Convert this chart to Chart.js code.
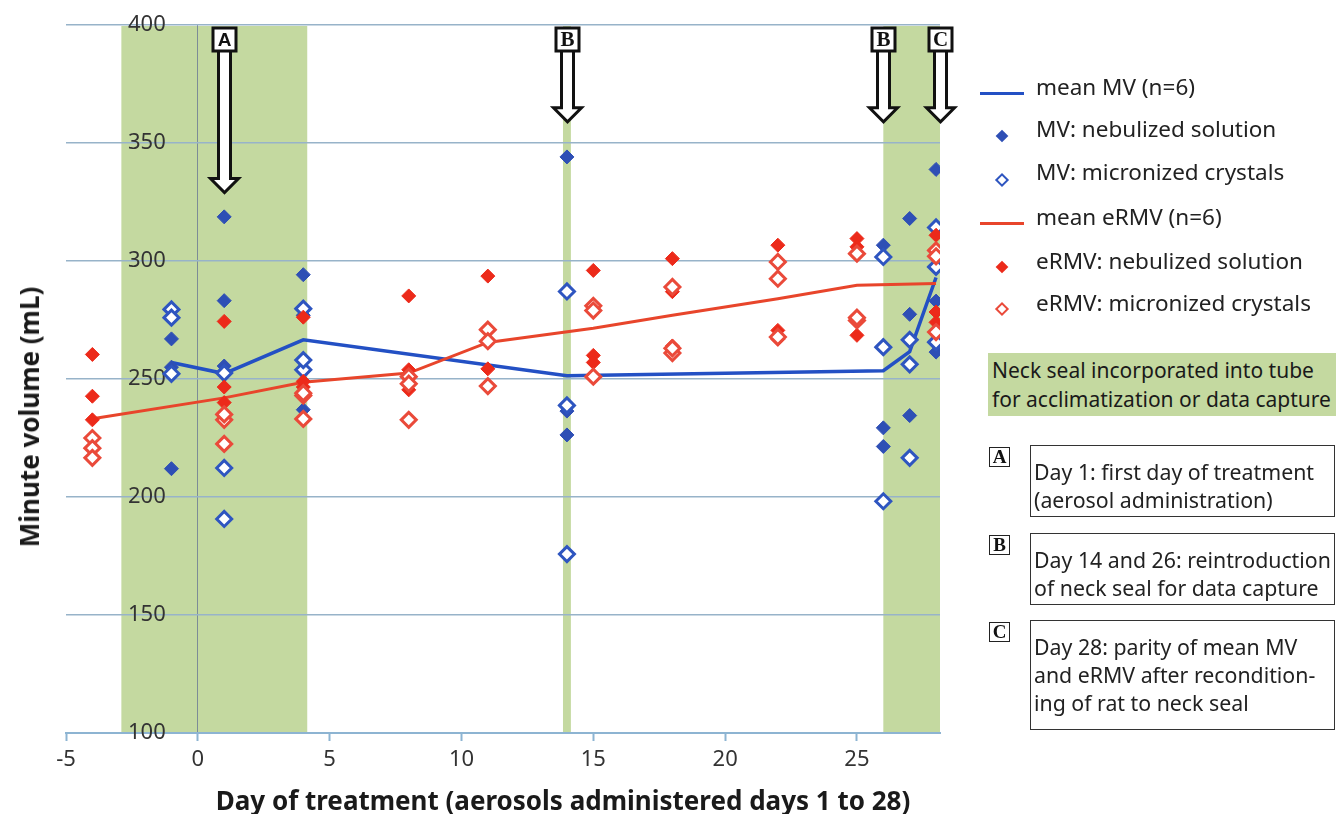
<!DOCTYPE html>
<html>
<head>
<meta charset="utf-8">
<script src="https://cdn.jsdelivr.net/npm/chart.js@4.4.1/dist/chart.umd.min.js"></script>
<style>
html,body{margin:0;padding:0;background:#fff;}
#wrap{position:relative;width:1336px;height:814px;overflow:hidden;font-family:'Noto Sans',sans-serif;color:#222;}
#c{position:absolute;left:0;top:0;}
.ytitle{position:absolute;left:29px;top:417px;transform:translate(-50%,-50%) rotate(-90deg);font-weight:bold;font-size:26px;white-space:nowrap;color:#1a1a1a;}
.xtitle{position:absolute;left:563px;top:800px;transform:translate(-50%,-50%);font-weight:bold;font-size:26px;white-space:nowrap;color:#1a1a1a;}
.lt{position:absolute;left:1036px;font-size:22.5px;line-height:26px;height:26px;margin-top:-13px;white-space:nowrap;color:#222;}
.ll{position:absolute;left:980px;width:44px;height:3px;margin-top:-1.5px;}
.dm{position:absolute;box-sizing:border-box;transform:translate(-50%,-50%) rotate(45deg);}
.note{position:absolute;left:988px;top:353px;width:348px;height:63px;background:#c4d9a0;font-size:21px;line-height:29px;padding:3px 0 0 4px;box-sizing:border-box;white-space:nowrap;color:#1a1a1a;}
.lab{position:absolute;left:989px;width:21px;height:20px;border:1.5px solid #222;box-sizing:border-box;font-family:'Liberation Serif',serif;font-weight:bold;font-size:19px;line-height:18px;text-align:center;color:#111;}
.box{position:absolute;left:1030px;width:305px;border:1.5px solid #333;box-sizing:border-box;font-size:21.3px;line-height:28px;padding:12px 0 0 3px;white-space:nowrap;color:#222;}
</style>
</head>
<body>
<div id="wrap">
<canvas id="c" width="1336" height="814"></canvas>
<div class="ytitle">Minute volume (mL)</div>
<div class="xtitle">Day of treatment (aerosols administered days 1 to 28)</div>

<div class="ll" style="top:93px;background:#2350c4"></div>
<div class="lt" style="top:87px">mean MV (n=6)</div>
<div class="dm" style="left:1002px;top:136px;width:9px;height:9px;background:#2e4fb5"></div>
<div class="lt" style="top:129px">MV: nebulized solution</div>
<div class="dm" style="left:1002px;top:180px;width:10px;height:10px;border:2.5px solid #2e55c0;background:#fff"></div>
<div class="lt" style="top:172px">MV: micronized crystals</div>
<div class="ll" style="top:223px;background:#e8452b"></div>
<div class="lt" style="top:217px">mean eRMV (n=6)</div>
<div class="dm" style="left:1002px;top:267px;width:9px;height:9px;background:#ec2a1a"></div>
<div class="lt" style="top:261px">eRMV: nebulized solution</div>
<div class="dm" style="left:1002px;top:309px;width:10px;height:10px;border:2.5px solid #ea4a3a;background:#fff"></div>
<div class="lt" style="top:303px">eRMV: micronized crystals</div>

<div class="note">Neck seal incorporated into tube<br>for acclimatization or data capture</div>

<div class="lab" style="top:447px">A</div>
<div class="box" style="top:445px;height:72px">Day 1: first day of treatment<br>(aerosol administration)</div>
<div class="lab" style="top:535px">B</div>
<div class="box" style="top:533px;height:72px">Day 14 and 26: reintroduction<br>of neck seal for data capture</div>
<div class="lab" style="top:622px">C</div>
<div class="box" style="top:620px;height:110px">Day 28: parity of mean MV<br>and eRMV after recondition-<br>ing of rat to neck seal</div>
</div>

<script>
// ---- data ----
const xTicks = [-5, 0, 5, 10, 15, 20, 25];
const yTicks = [100, 150, 200, 250, 300, 350, 400];

const meanMVDays = [-1, 1, 4, 14, 26, 27, 28];
const meanMV     = [257, 252.3, 266.6, 251.4, 253.5, 261.6, 293];

const mvDays    = [-1,-1,-1, 1,1,1, 4,4,4, 14,14,14, 26,26,26, 27,27,27, 28,28,28];
const mvNebVals = [267,212,255, 318.7,283.2,255.5, 294.2,277,237, 344.1,236.4,226.3, 306.7,229.3,221.4, 318,277.4,234.5, 338.8,283,261.4];
const mvMicVals = [279.5,276,252.2, 252.5,212.3,190.7, 279.8,253.9,258, 287.1,238.8,175.8, 301.7,263.5,198.2, 266.6,256.2,216.6, 314.2,297.5,265.6];

const meanERMVDays = [-4, 1, 4, 8, 11, 15, 18, 22, 25, 28];
const meanERMV     = [233.2, 242, 248.6, 252.5, 265.5, 271.5, 277, 284, 289.7, 290.5];

const ermvDays    = [-4,-4,-4, 1,1,1, 4,4,4, 8,8,8, 11,11,11, 15,15,15, 18,18,18, 22,22,22, 25,25,25, 28,28,28];
const ermvNebVals = [260.4,242.7,232.7, 274.4,246.6,240, 276.2,246.6,249, 285.2,253.9,245.4, 293.6,254.3,266, 296,260,257, 301,287,264, 306.7,270.6,266.8, 309.5,306,268.5, 310.9,278.4,274];
const ermvMicVals = [225,220.7,216.6, 232.7,235,222.5, 243,233.1,244, 251,232.7,248, 270.9,266,247, 281,279,251, 289,261,263, 299.6,292.5,267.8, 303.1,274.8,276, 304.5,302,269.9];

// neck-seal periods (day ranges) and event arrows
const bandStarts = [-2.9, 13.85, 26];
const bandEnds   = [4.15, 14.15, 28.15];
const arrowLabels = ['A', 'B', 'B', 'C'];
const arrowDays   = [1, 14, 26, 28.15];
const arrowTips   = [329, 359, 359, 359];

const xMin = -5, xMax = 28.15, yMin = 100, yMax = 400;

// ---- helpers ----
const pts = (xs, ys) => xs.map((d, i) => ({x: d, y: ys[i]}));

const bandPlugin = {
  id: 'bands',
  beforeDraw(chart) {
    const {ctx, chartArea, scales: {x}} = chart;
    ctx.save();
    ctx.fillStyle = '#c4d9a0';
    bandStarts.forEach((s, i) => {
      const x1 = x.getPixelForValue(s), x2 = x.getPixelForValue(bandEnds[i]);
      ctx.fillRect(x1, chartArea.top + 1, x2 - x1, chartArea.bottom - chartArea.top - 1);
    });
    ctx.restore();
  }
};

const arrowPlugin = {
  id: 'arrows',
  afterDatasetsDraw(chart) {
    const {ctx, scales: {x, y}} = chart;
    const top = y.getPixelForValue(yMax) + 3;
    ctx.save();
    arrowDays.forEach((d, i) => {
      const cx = Math.round(x.getPixelForValue(d)) + 0.5;
      const tip = y.getPixelForValue(arrowTips[i]);
      const bb = top + 23;
      ctx.beginPath();
      ctx.moveTo(cx - 6, bb);
      ctx.lineTo(cx - 6, tip - 14);
      ctx.lineTo(cx - 14, tip - 14);
      ctx.lineTo(cx, tip);
      ctx.lineTo(cx + 14, tip - 14);
      ctx.lineTo(cx + 6, tip - 14);
      ctx.lineTo(cx + 6, bb);
      ctx.fillStyle = '#fff';
      ctx.fill();
      ctx.lineWidth = 3;
      ctx.lineJoin = 'miter';
      ctx.strokeStyle = '#111';
      ctx.stroke();
      ctx.beginPath();
      ctx.rect(cx - 11.5, top, 23, 23);
      ctx.fillStyle = '#fff';
      ctx.fill();
      ctx.stroke();
      ctx.fillStyle = '#111';
      ctx.font = (arrowLabels[i] === 'A' ? "bold 19px 'Liberation Sans'" : "bold 21px 'Liberation Serif'");
      ctx.textAlign = 'center';
      ctx.textBaseline = 'middle';
      ctx.fillText(arrowLabels[i], cx, top + 12.5);
    });
    ctx.restore();
  }
};

new Chart(document.getElementById('c'), {
  type: 'scatter',
  data: {
    datasets: [
      {label: 'mean MV (n=6)', data: pts(meanMVDays, meanMV), showLine: true, borderColor: '#2350c4', borderWidth: 3.5, pointRadius: 0, fill: false, order: 6},
      {label: 'MV: nebulized solution', data: pts(mvDays, mvNebVals), pointStyle: 'rectRot', pointRadius: 7, backgroundColor: '#2e4fb5', borderColor: '#2e4fb5', borderWidth: 1, order: 5},
      {label: 'MV: micronized crystals', data: pts(mvDays, mvMicVals), pointStyle: 'rectRot', pointRadius: 7.5, backgroundColor: '#ffffff', borderColor: '#2e55c0', borderWidth: 3, order: 4},
      {label: 'mean eRMV (n=6)', data: pts(meanERMVDays, meanERMV), showLine: true, borderColor: '#e8452b', borderWidth: 3, pointRadius: 0, fill: false, order: 3},
      {label: 'eRMV: nebulized solution', data: pts(ermvDays, ermvNebVals), pointStyle: 'rectRot', pointRadius: 7, backgroundColor: '#ec2a1a', borderColor: '#ec2a1a', borderWidth: 1, order: 2},
      {label: 'eRMV: micronized crystals', data: pts(ermvDays, ermvMicVals), pointStyle: 'rectRot', pointRadius: 7.5, backgroundColor: '#ffffff', borderColor: '#ea4a3a', borderWidth: 3, order: 1}
    ]
  },
  options: {
    responsive: false,
    animation: false,
    devicePixelRatio: 1,
    layout: {padding: {left: 4, right: 396, top: 25, bottom: 39}},
    plugins: {legend: {display: false}, tooltip: {enabled: false}},
    scales: {
      x: {
        type: 'linear', min: xMin, max: xMax,
        afterBuildTicks: s => { s.ticks = xTicks.map(v => ({value: v})); },
        afterFit: s => { s.height = 42; s.paddingLeft = 0; s.paddingRight = 0; },
        ticks: {font: {family: "'Noto Sans'", size: 22}, color: '#333', padding: 6, maxRotation: 0},
        grid: {
          color: c => (c.tick && c.tick.value === 0) ? '#7d8c96' : 'rgba(0,0,0,0)',
          lineWidth: 1, tickColor: '#8db4d2', tickWidth: 2, tickLength: 8, drawTicks: true
        },
        border: {display: true, color: '#8db4d2', width: 2}
      },
      y: {
        type: 'linear', position: 'left', min: yMin, max: yMax,
        afterBuildTicks: s => { s.ticks = yTicks.map(v => ({value: v})); },
        afterFit: s => { s.width = 62; s.paddingTop = 0; s.paddingBottom = 0; },
        ticks: {mirror: true, padding: 62, font: {family: "'Noto Sans'", size: 22}, color: '#333'},
        grid: {color: '#97b3c9', lineWidth: 1.5, drawTicks: false},
        border: {display: false}
      }
    }
  },
  plugins: [bandPlugin, arrowPlugin]
});
</script>
</body>
</html>
